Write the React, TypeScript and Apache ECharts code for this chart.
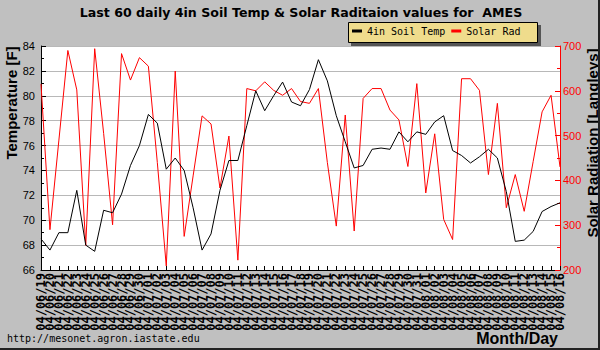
import React, { useEffect, useRef } from "react";
import * as echarts from "echarts";

const dates = [
  "04/06/19", "04/06/20", "04/06/21", "04/06/22", "04/06/23", "04/06/24", "04/06/25", "04/06/26",
  "04/06/27", "04/06/28", "04/06/29", "04/06/30", "04/07/01", "04/07/02", "04/07/03", "04/07/04",
  "04/07/05", "04/07/06", "04/07/07", "04/07/08", "04/07/09", "04/07/10", "04/07/11", "04/07/12",
  "04/07/13", "04/07/14", "04/07/15", "04/07/16", "04/07/17", "04/07/18", "04/07/19", "04/07/20",
  "04/07/21", "04/07/22", "04/07/23", "04/07/24", "04/07/25", "04/07/26", "04/07/27", "04/07/28",
  "04/07/29", "04/07/30", "04/07/31", "04/08/01", "04/08/02", "04/08/03", "04/08/04", "04/08/05",
  "04/08/06", "04/08/07", "04/08/08", "04/08/09", "04/08/10", "04/08/11", "04/08/12", "04/08/13",
  "04/08/14", "04/08/15", "04/08/16",
];

const soilTemp = [
  68.5, 67.6, 69.0, 69.0, 72.4, 68.0, 67.5, 70.8, 70.6, 72.1,
  74.4, 76.0, 78.5, 77.8, 74.1, 75.0, 74.0, 71.0, 67.6, 68.9,
  72.4, 74.8, 74.8, 77.6, 80.4, 78.8, 80.0, 81.1, 79.5, 79.2,
  80.5, 82.9, 81.2, 78.4, 76.3, 74.2, 74.4, 75.7, 75.8, 75.7,
  77.1, 76.3, 77.1, 76.9, 77.9, 78.4, 75.6, 75.2, 74.6, 75.1,
  75.7, 75.0, 72.3, 68.3, 68.4, 69.1, 70.7, 71.1, 71.4,
];

const solarRad = [
  615, 290, 490, 690, 602, 255, 694, 505, 301, 683,
  624, 674, 655, 440, 209, 644, 275, 410, 544, 526,
  383, 499, 222, 605, 600, 620, 601, 590, 605, 576,
  572, 605, 440, 298, 546, 287, 583, 605, 605, 557,
  535, 431, 616, 372, 504, 313, 268, 627, 627, 601,
  413, 572, 339, 413, 331, 442, 553, 590, 430,
];

const seriesNames = ["4in Soil Temp", "Solar Rad"];
const titleText = "Last 60 daily 4in Soil Temp & Solar Raditaion values for  AMES";

export default function App() {
  const ref = useRef<HTMLDivElement>(null);
  useEffect(() => {
    if (!ref.current) return;
    const chart = echarts.init(ref.current, undefined, { renderer: "svg" });
    const option: any = {
      animation: false,
      backgroundColor: "#c0c0c0",
      grid: {
        left: 41,
        right: 40,
        top: 46,
        bottom: 80,
        show: true,
        backgroundColor: "#ffffff",
        borderWidth: 0,
        containLabel: false,
        outerBoundsMode: "none",
      },
      legend: {
        z: 10,
        left: 352,
        top: 26,
        padding: 0,
        itemWidth: 10,
        itemHeight: 3,
        itemGap: 6,
        icon: "rect",
        data: seriesNames,
        textStyle: { fontFamily: "DejaVu Sans Mono", fontSize: 10, color: "#000" },
      },
      xAxis: {
        type: "category",
        data: dates,
        boundaryGap: false,
        axisLine: { show: true, lineStyle: { color: "#000", width: 1 } },
        axisTick: { show: true, inside: true, length: 4, interval: 0, lineStyle: { color: "#000" } },
        axisLabel: {
          interval: 0,
          rotate: 90,
          margin: 3,
          fontFamily: "DejaVu Sans Mono",
          fontWeight: "bold",
          fontSize: 12,
          color: "#000",
        },
        splitLine: { show: false },
      },
      yAxis: [
        {
          type: "value",
          position: "left",
          min: 66,
          max: 84,
          interval: 2,
          axisLine: { show: true, lineStyle: { color: "#000", width: 1 } },
          axisTick: { show: true, inside: true, length: 5, lineStyle: { color: "#000" } },
          minorTick: { show: true, splitNumber: 2, length: 3, lineStyle: { color: "#000" } },
          axisLabel: { margin: 6, fontFamily: "Liberation Sans", fontSize: 11, color: "#000" },
          splitLine: { show: true, lineStyle: { color: "#b8b8b8", width: 1 } },
        },
        {
          type: "value",
          position: "right",
          min: 200,
          max: 700,
          interval: 100,
          axisLine: { show: true, lineStyle: { color: "#ff0000", width: 1 } },
          axisTick: { show: true, inside: true, length: 5, lineStyle: { color: "#ff0000" } },
          minorTick: { show: true, splitNumber: 2, length: 3, lineStyle: { color: "#ff0000" } },
          axisLabel: { margin: 3, fontFamily: "Liberation Sans", fontSize: 11, color: "#ff0000" },
          splitLine: { show: false },
        },
      ],
      series: [
        {
          name: seriesNames[0],
          type: "line",
          yAxisIndex: 0,
          data: soilTemp,
          symbol: "none",
          color: "#000000",
          lineStyle: { color: "#000000", width: 1 },
          itemStyle: { color: "#000000" },
          z: 3,
        },
        {
          name: seriesNames[1],
          type: "line",
          yAxisIndex: 1,
          data: solarRad,
          symbol: "none",
          color: "#ff0000",
          lineStyle: { color: "#ff0000", width: 1 },
          itemStyle: { color: "#ff0000" },
          z: 2,
        },
      ],
      graphic: [
        {
          type: "text",
          z: 10,
          x: 301,
          y: 12,
          style: {
            text: titleText,
            fontFamily: "DejaVu Sans",
            fontWeight: "bold",
            fontSize: 12.6,
            fill: "#000",
            align: "center",
            verticalAlign: "middle",
          },
        },
        {
          type: "rect",
          z: 5,
          shape: { x: 351, y: 25, width: 190, height: 21 },
          style: { fill: "#555555" },
        },
        {
          type: "rect",
          z: 6,
          shape: { x: 348.5, y: 22.5, width: 189, height: 20 },
          style: { fill: "#efdc8c", stroke: "#000000", lineWidth: 1 },
        },
        {
          type: "text",
          z: 10,
          x: 11,
          y: 103,
          rotation: Math.PI / 2,
          style: {
            text: "Temperature [F]",
            fontFamily: "Liberation Sans",
            fontWeight: "bold",
            fontSize: 15,
            fill: "#000",
            align: "center",
            verticalAlign: "middle",
          },
        },
        {
          type: "text",
          z: 10,
          x: 592,
          y: 143,
          rotation: Math.PI / 2,
          style: {
            text: "Solar Radiation [Langleys]",
            fontFamily: "Liberation Sans",
            fontWeight: "bold",
            fontSize: 15,
            fill: "#000",
            align: "center",
            verticalAlign: "middle",
          },
        },
        {
          type: "text",
          z: 10,
          x: 558,
          y: 338,
          style: {
            text: "Month/Day",
            fontFamily: "Liberation Sans",
            fontWeight: "bold",
            fontSize: 16,
            fill: "#000",
            align: "right",
            verticalAlign: "middle",
          },
        },
        {
          type: "text",
          z: 10,
          x: 7,
          y: 338,
          style: {
            text: "http://mesonet.agron.iastate.edu",
            fontFamily: "DejaVu Sans Mono",
            fontSize: 10,
            fill: "#000",
            align: "left",
            verticalAlign: "middle",
          },
        },
        {
          type: "rect",
          z: 10,
          shape: { x: 598, y: 0, width: 2, height: 350 },
          style: { fill: "#222222" },
        },
        {
          type: "rect",
          z: 10,
          shape: { x: 0, y: 348, width: 600, height: 2 },
          style: { fill: "#222222" },
        },
      ],
    };
    chart.setOption(option);
    return () => chart.dispose();
  }, []);
  return <div ref={ref} style={{ width: 600, height: 350, position: "absolute", left: 0, top: 0 }} />;
}
